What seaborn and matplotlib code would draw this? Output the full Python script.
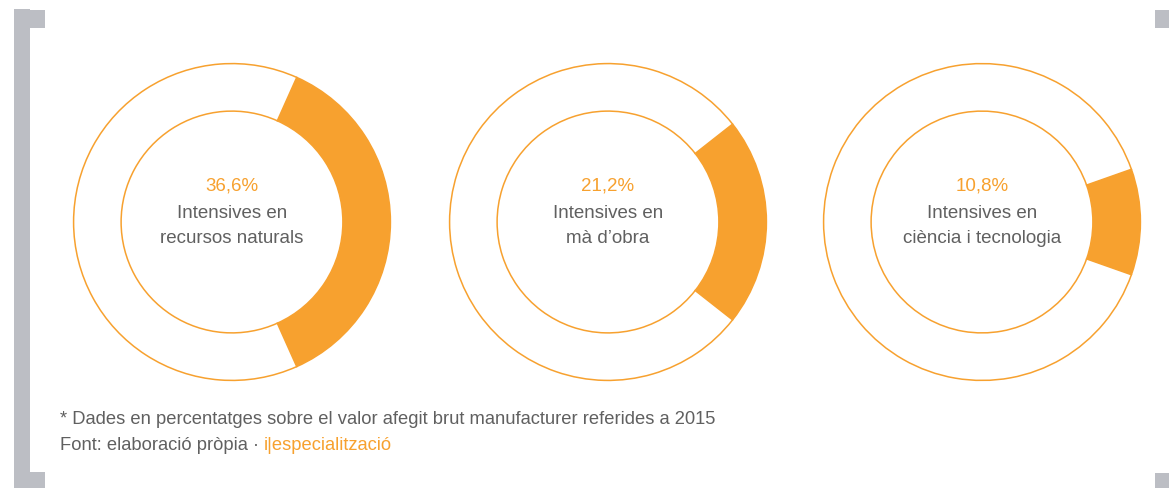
import numpy as np
import pandas as pd
import matplotlib.pyplot as plt
import matplotlib.patches as mpatches
import seaborn as sns

# valors (% sobre VAB manufacturer, 2015)
categories = ['Intensives en\nrecursos naturals', 'Intensives en\nmà d\u2019obra', 'Intensives en\nciència i tecnologia']
shares = [36.6, 21.2, 10.8]
labels = ['36,6%', '21,2%', '10,8%']

sns.set_theme(style='white')
plt.rcParams['font.family'] = ['Liberation Sans', 'DejaVu Sans']

orange = '#f7a12f'
grey_txt = '#606060'
bracket = '#bcbec4'

W, H = 1169, 488
fig = plt.figure(figsize=(W / 100, H / 100), dpi=100)
fig.patch.set_facecolor('white')

centers_x = [232, 608, 982]
cy = 222
r_out = 160
r_in = 112

for cx, cat, val, lab in zip(centers_x, categories, shares, labels):
    ax = fig.add_axes([(cx - r_out) / W, (H - cy - r_out) / H, 2 * r_out / W, 2 * r_out / H])
    start = -val / 100 * 360 / 2
    ax.pie([val, 100 - val], colors=[orange, 'white'], startangle=start, counterclock=True,
           radius=1, wedgeprops=dict(width=1 - r_in / r_out, edgecolor=orange, linewidth=1.1))
    ax.set_xlim(-1.01, 1.01)
    ax.set_ylim(-1.01, 1.01)
    ax.set_aspect('equal')
    ax.axis('off')
    fig.text(cx / W, 1 - 186 / H, lab, ha='center', va='center', color=orange, fontsize=13.5)
    fig.text(cx / W, 1 - 226 / H, cat, ha='center', va='center', color=grey_txt, fontsize=13.5,
             linespacing=1.6)

# nota i font
fig.text(60 / W, 1 - 420 / H, '* Dades en percentatges sobre el valor afegit brut manufacturer referides a 2015',
         ha='left', va='center', color=grey_txt, fontsize=13.2)
t = fig.text(60 / W, 1 - 445 / H, 'Font: elaboració pròpia \u00b7 ', ha='left', va='center',
             color=grey_txt, fontsize=13.2)
fig.canvas.draw()
bb = t.get_window_extent()
fig.text(bb.x1 / W, 1 - 445 / H, 'i|especialització', ha='left', va='center', color=orange, fontsize=13.2)

# claudators grisos
def rect(x0, y0, x1, y1):
    fig.patches.append(mpatches.Rectangle((x0 / W, 1 - y1 / H), (x1 - x0) / W, (y1 - y0) / H,
                                          transform=fig.transFigure, color=bracket, lw=0))

rect(14, 9, 30, 488)
rect(30, 10, 45, 28)
rect(30, 472, 45, 488)
rect(1155, 10, 1169, 28)
rect(1155, 473, 1169, 488)

fig.savefig('out.png', dpi=100, facecolor='white')
